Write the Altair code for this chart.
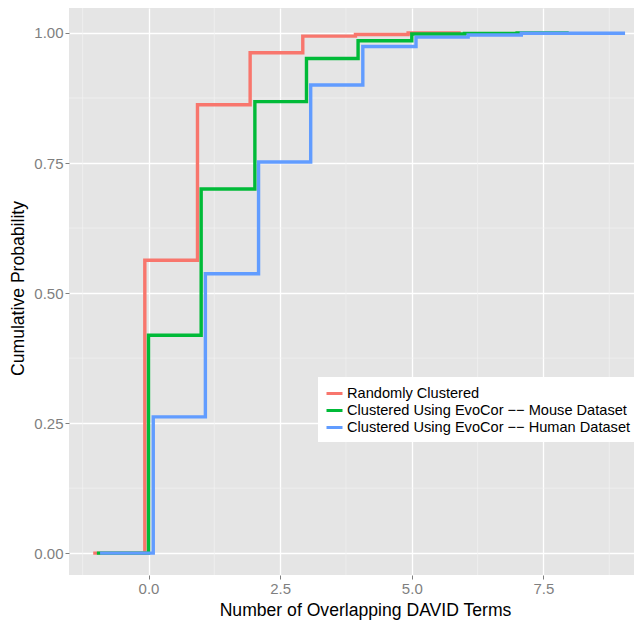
import altair as alt
import pandas as pd

series_names = [
    "Randomly Clustered",
    "Clustered Using EvoCor −− Mouse Dataset",
    "Clustered Using EvoCor −− Human Dataset",
]
series_colors = ["#F8766D", "#00BA38", "#619CFF"]

random_x = [-1.05, -0.07, 0.93, 1.93, 2.93, 3.93, 4.93, 5.93]
random_y = [0.0, 0.563, 0.862, 0.962, 0.994, 0.997, 1.0, 1.0]

mouse_x = [-0.98, 0.0, 1.0, 2.02, 3.0, 3.98, 5.0, 6.0, 7.0, 7.98]
mouse_y = [0.0, 0.419, 0.70, 0.868, 0.951, 0.985, 0.998, 0.999, 1.0, 1.0]

human_x = [-0.92, 0.09, 1.08, 2.09, 3.08, 4.07, 5.08, 6.07, 7.08, 9.05]
human_y = [0.0, 0.262, 0.537, 0.752, 0.90, 0.974, 0.992, 0.996, 0.9994, 0.9994]

x_ticks = [0.0, 2.5, 5.0, 7.5]
y_ticks = [0.0, 0.25, 0.5, 0.75, 1.0]
minor_x = [-1.25, 1.25, 3.75, 6.25, 8.75]
minor_y = [0.125, 0.375, 0.625, 0.875]

rows = []
for name, xs, ys in zip(series_names, [random_x, mouse_x, human_x], [random_y, mouse_y, human_y]):
    for i, (xv, yv) in enumerate(zip(xs, ys)):
        rows.append({"series": name, "x": xv, "y": yv, "i": i})
df = pd.DataFrame(rows)

FONT = "Liberation Sans"
x_scale = alt.Scale(domain=[-1.51, 9.22], nice=False, zero=False)
y_scale = alt.Scale(domain=[-0.042, 1.048], nice=False, zero=False)

x_axis = alt.Axis(
    values=x_ticks, format=".1f", title="Number of Overlapping DAVID Terms",
    grid=True, gridColor="white", gridWidth=1.3, domain=False,
    tickColor="#7F7F7F", tickSize=4, tickWidth=1,
    labelColor="#7F7F7F", labelFontSize=15, labelPadding=2, labelFont=FONT,
    titleFont=FONT, titleFontSize=17.6, titleFontWeight="normal", titleColor="black",
    titlePadding=5, titleX=296,
)
y_axis = alt.Axis(
    values=y_ticks, format=".2f", title="Cumulative Probability",
    grid=True, gridColor="white", gridWidth=1.3, domain=False,
    tickColor="#7F7F7F", tickSize=4, tickWidth=1,
    labelColor="#7F7F7F", labelFontSize=15, labelPadding=2, labelFont=FONT,
    titleFont=FONT, titleFontSize=17.6, titleFontWeight="normal", titleColor="black",
    titlePadding=6, titleY=280,
)

minor_x_rules = alt.Chart(pd.DataFrame({"v": minor_x})).mark_rule(
    color="#F2F2F2", strokeWidth=0.7
).encode(x=alt.X("v:Q", scale=x_scale, axis=x_axis))

minor_y_rules = alt.Chart(pd.DataFrame({"v": minor_y})).mark_rule(
    color="#F2F2F2", strokeWidth=0.7
).encode(y=alt.Y("v:Q", scale=y_scale, axis=y_axis))

lines = alt.Chart(df).mark_line(
    strokeWidth=3.4, interpolate="step-after", clip=True
).encode(
    x=alt.X("x:Q", scale=x_scale, axis=x_axis),
    y=alt.Y("y:Q", scale=y_scale, axis=y_axis),
    color=alt.Color(
        "series:N",
        scale=alt.Scale(domain=series_names, range=series_colors),
        legend=alt.Legend(
            title=None, orient="none", legendX=249, legendY=369,
            fillColor="white", padding=7, symbolType="stroke",
            symbolStrokeWidth=3, symbolSize=256, labelFontSize=14.6,
            labelFont=FONT, labelColor="black", labelOffset=3, rowPadding=0,
            labelLimit=400,
        ),
    ),
    order=alt.Order("i:Q"),
)

chart = alt.layer(minor_x_rules, minor_y_rules, lines).properties(
    width=565, height=567,
    autosize=alt.AutoSizeParams(type="none"),
    padding={"left": 61, "top": 0, "right": 0, "bottom": 45},
    background="white",
).configure_view(fill="#E5E5E5", stroke=None)

chart.save("out.html", embed_options={"renderer": "svg", "actions": False})
